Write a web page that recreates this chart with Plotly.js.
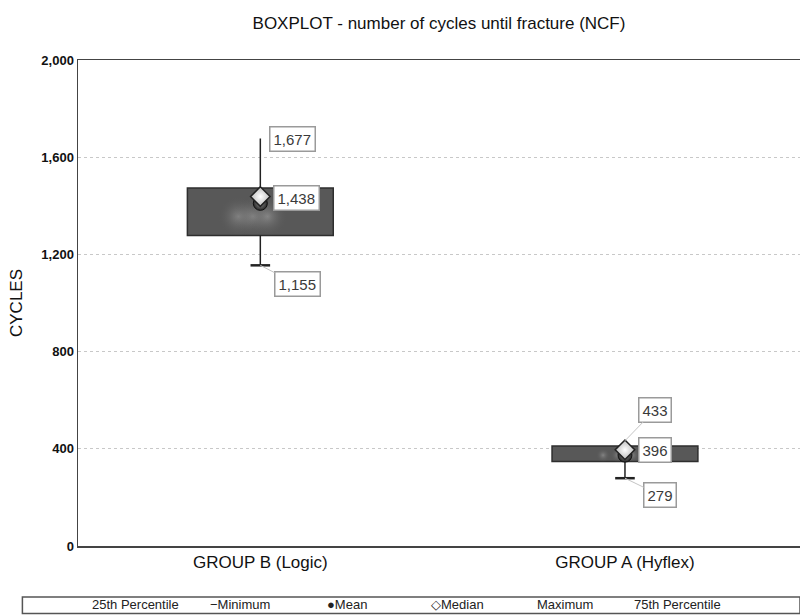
<!DOCTYPE html>
<html><head><meta charset="utf-8">
<script src="https://cdn.plot.ly/plotly-3.0.1.min.js"></script>
<style>html,body{margin:0;padding:0;background:#fff}</style>
</head><body>
<div id="chart" style="width:800px;height:616px"></div>
<script>
const categories = ["GROUP B (Logic)", "GROUP A (Hyflex)"];
const minimum = [1155, 279];
const q1 = [1278, 348];
const median = [1438, 396];
const mean = [1410, 374];
const q3 = [1473, 412];
const maximum = [1677, 433];
const yTicks = [0, 400, 800, 1200, 1600, 2000];
const legendLabels = ["25th Percentile", "\u2212Minimum", "\u25CFMean", "\u25C7Median", "Maximum", "75th Percentile"];

const xs = categories.map((c, i) => i);
const boxTrace = {
  type: 'bar', x: xs, base: q1, y: q3.map((v, i) => v - q1[i]), width: 0.4,
  marker: {color: '#585858', line: {color: '#2e2e2e', width: 1.5}},
  hoverinfo: 'skip', showlegend: false
};
// soft highlight inside each box
const glowX = [], glowY = [], glowS = [];
xs.forEach((x, i) => {
  const mid = (q1[i] + q3[i]) / 2;
  const h = (q3[i] - q1[i]) * 0.243;
  [-0.06, -0.02, 0.02].forEach(d => { glowX.push(x + d); glowY.push(mid - (q3[i] - q1[i]) * 0.1); glowS.push(Math.min(40, h * 0.9)); });
});
const glow = {
  type: 'scatter', mode: 'markers', x: glowX, y: glowY,
  marker: {symbol: 'circle', size: glowS, color: 'rgba(88,88,88,0)', line: {width: 0},
    gradient: {type: 'radial', color: 'rgba(170,170,170,0.75)'}},
  hoverinfo: 'skip', showlegend: false
};
const wx = [], wy = [];
xs.forEach((x, i) => { wx.push(x, x, null, x, x, null); wy.push(q3[i], maximum[i], null, q1[i], minimum[i], null); });
const whisk = {type: 'scatter', mode: 'lines', x: wx, y: wy, line: {color: '#222', width: 1.5}, hoverinfo: 'skip', showlegend: false};
const caps = {type: 'scatter', mode: 'markers', x: xs, y: minimum,
  marker: {symbol: 'line-ew', size: 14, line: {color: '#222', width: 2.5}}, hoverinfo: 'skip', showlegend: false};
const meanTr = {type: 'scatter', mode: 'markers', x: xs, y: mean,
  marker: {symbol: 'circle', size: 14, color: '#2a2a2a', line: {color: '#111', width: 1},
    gradient: {type: 'radial', color: '#8a8a8a'}}, hoverinfo: 'skip', showlegend: false};
const medTr = {type: 'scatter', mode: 'markers', x: xs, y: median,
  marker: {symbol: 'diamond', size: 15, color: '#bdbdbd', line: {color: '#222', width: 1.5},
    gradient: {type: 'radial', color: '#ffffff'}}, hoverinfo: 'skip', showlegend: false};

const fmt = v => v.toLocaleString('en-US');
function lab(x, y, v, ax, ay, line) {
  return {x: x, y: y, xref: 'x', yref: 'y', text: fmt(v), showarrow: true, arrowhead: 0,
    arrowwidth: 1, arrowcolor: line ? '#c4c4c4' : 'rgba(0,0,0,0)', ax: ax, ay: ay, standoff: 0,
    bgcolor: '#ffffff', bordercolor: '#9a9a9a', borderwidth: 1.5, borderpad: 3,
    font: {family: 'Liberation Sans, Arial', size: 15, color: '#3a3a3a'}};
}
const annotations = [
  lab(0, maximum[0], maximum[0], 32, 1, false),
  lab(0, median[0], median[0], 36, 1, false),
  lab(0, minimum[0], minimum[0], 37, 19, true),
  lab(1, maximum[1], maximum[1], 30, -31, true),
  lab(1, median[1], median[1], 30, 0, false),
  lab(1, minimum[1], minimum[1], 35, 17, true)
];
const legX = [0.08, 0.225, 0.372, 0.525, 0.675, 0.83];
legendLabels.forEach((t, i) => annotations.push({
  xref: 'paper', yref: 'paper', x: legX[i], y: -0.12, yanchor: 'middle', xanchor: 'center', text: t, showarrow: false,
  font: {family: 'Liberation Sans, Arial', size: 13, color: '#222'}
}));

const layout = {
  width: 800, height: 616,
  margin: {l: 78, r: 0, t: 60, b: 70},
  paper_bgcolor: '#fff', plot_bgcolor: '#fff',
  title: {text: 'BOXPLOT - number of cycles until fracture (NCF)', x: 0.5, xref: 'paper', y: 0.962, yanchor: 'middle',
    font: {family: 'Liberation Sans, Arial', size: 17, color: '#111'}},
  xaxis: {range: [-0.5, 1.48], tickvals: xs, ticktext: categories, showgrid: false, zeroline: false,
    showline: true, mirror: true, linecolor: '#444', linewidth: 1.5, ticks: '',
    tickfont: {family: 'Liberation Sans, Arial', size: 17, color: '#111'}, fixedrange: true},
  yaxis: {range: [0, 2000], tickvals: yTicks, tickformat: ',d', showgrid: true, gridcolor: '#c8c8c8', griddash: 'dot',
    gridwidth: 1, zeroline: false, showline: true, linecolor: '#444', linewidth: 1.5, ticks: '',
    tickfont: {family: 'Liberation Sans, Arial', size: 13, color: '#111', weight: 'bold'},
    title: {text: 'CYCLES', standoff: 14, font: {family: 'Liberation Sans, Arial', size: 17, color: '#111'}}},
  annotations: annotations,
  shapes: [{type: 'rect', xref: 'paper', yref: 'paper', x0: -0.077, x1: 1.0, y0: -0.105, y1: -0.139,
    line: {color: '#555', width: 1.5}, fillcolor: 'rgba(0,0,0,0)'}],
  showlegend: false, bargap: 0
};
Plotly.newPlot('chart', [boxTrace, glow, whisk, caps, meanTr, medTr], layout, {displayModeBar: false, staticPlot: true});
</script>
</body></html>
